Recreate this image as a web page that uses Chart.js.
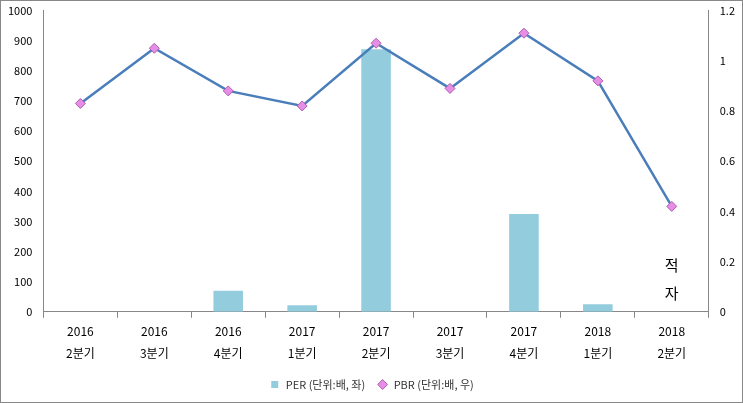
<!DOCTYPE html>
<html><head><meta charset="utf-8">
<script src="https://cdn.jsdelivr.net/npm/chart.js@4"></script>
<style>body{margin:0;background:#fff}#w{width:741px;height:401px;border:1px solid #888;}</style>
</head><body><div id="w"><canvas id="c"></canvas></div>
<script>
const categories=[["2016","2분기"],["2016","3분기"],["2016","4분기"],["2017","1분기"],["2017","2분기"],["2017","3분기"],["2017","4분기"],["2018","1분기"],["2018","2분기"]];
const perValues=[null,null,70,22,872,null,325,25,null];
const pbrValues=[0.83,1.05,0.88,0.82,1.07,0.89,1.11,0.92,0.42];
const deficitNote=["적","자"];
const F="'Noto Sans CJK KR','Noto Sans',sans-serif";
const note={id:'note',afterDatasetsDraw(ch){const x=ch.scales.x,y=ch.scales.y,ctx=ch.ctx;ctx.save();ctx.font="15px "+F;ctx.fillStyle="#000";ctx.textAlign="center";ctx.textBaseline="middle";const px=x.getPixelForValue(8);ctx.fillText(deficitNote[0],px,y.getPixelForValue(155));ctx.fillText(deficitNote[1],px,y.getPixelForValue(60));ctx.restore();}};
new Chart(document.getElementById('c'),{data:{labels:categories,datasets:[
{type:'line',label:'PBR (단위:배, 우)',data:pbrValues,yAxisID:'y1',borderColor:'#4a7ebb',borderWidth:2.5,pointStyle:'rectRot',pointRadius:5,pointBackgroundColor:'#e68ee6',pointBorderColor:'#b05cb0',pointBorderWidth:1,order:0},
{type:'bar',label:'PER (단위:배, 좌)',data:perValues,yAxisID:'y',backgroundColor:'#93cddd',categoryPercentage:1,barPercentage:0.4,order:1,pointStyle:'rect'}]},
options:{responsive:true,maintainAspectRatio:false,animation:false,
layout:{padding:{top:3,right:4,left:4,bottom:2}},
plugins:{legend:{position:'bottom',reverse:true,labels:{font:{family:F,size:11},color:'#333',usePointStyle:true,boxHeight:7,padding:12}},tooltip:{enabled:false}},
scales:{x:{grid:{display:true,drawOnChartArea:false,offset:true,tickLength:6,color:'#888'},border:{color:'#888'},ticks:{font:{family:F,size:12,lineHeight:1.8},color:'#000'}},
y:{position:'left',min:0,max:1000,grid:{display:false},border:{color:'#888'},ticks:{stepSize:100,font:{family:F,size:11},color:'#000',callback:v=>String(v)}},
y1:{position:'right',min:0,max:1.2,grid:{display:false},border:{color:'#888'},ticks:{stepSize:0.2,font:{family:F,size:11},color:'#000',callback:v=>v===0?'0':(Math.round(v*10)/10).toString()}}}},
plugins:[note]});
</script></body></html>
